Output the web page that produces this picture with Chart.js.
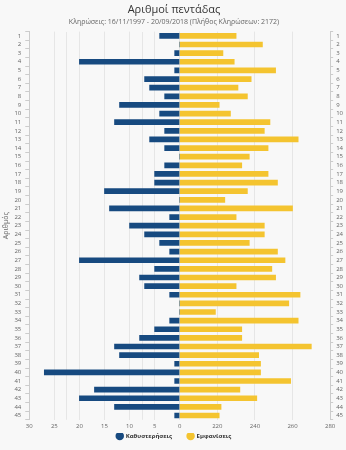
<!DOCTYPE html>
<html>
<head>
<meta charset="utf-8">
<script src="https://cdn.jsdelivr.net/npm/chart.js@4"></script>
<style>
  body { margin: 0; background: #f8f8f8; }
  #wrap { width: 346px; height: 450px; }
</style>
</head>
<body>
<div id="wrap"><canvas id="chart"></canvas></div>
<script>
// numbers 1..45
const numbers = [];
for (let i = 1; i <= 45; i++) numbers.push(String(i));

// delays (blue, left side)
const delays = [4, 0, 1, 20, 1, 7, 6, 3, 12, 4, 13, 3, 6, 3, 0, 3, 5, 5, 15, 0,
  14, 2, 10, 7, 4, 2, 20, 5, 8, 7, 2, 0, 0, 2, 5, 8, 13, 12, 1, 27,
  1, 17, 20, 13, 1];

// appearances (yellow, right side)
const appearances = [230, 244, 223, 229, 251, 238, 231, 236, 221, 227, 248, 245, 263, 247, 237, 233, 247, 252, 236, 224,
  260, 230, 245, 245, 237, 252, 256, 249, 251, 230, 264, 258, 219, 263, 233, 233, 270, 242, 243, 243,
  259, 232, 241, 222, 221];

const blue = '#174a80';
const yellow = '#f4c430';
const gridColor = '#e6e6e6';
const textColor = '#666';
const tickFont = { family: 'Open Sans', size: 6 };

new Chart(document.getElementById('chart'), {
  type: 'bar',
  data: {
    labels: numbers,
    datasets: [
      {
        label: 'Καθυστερήσεις',
        data: delays,
        xAxisID: 'xLeft',
        backgroundColor: blue,
        borderWidth: 0,
        barThickness: 5,
        grouped: false
      },
      {
        label: 'Εμφανίσεις',
        data: appearances,
        xAxisID: 'xRight',
        backgroundColor: yellow,
        borderWidth: 0,
        barThickness: 5,
        grouped: false
      }
    ]
  },
  options: {
    indexAxis: 'y',
    responsive: true,
    maintainAspectRatio: false,
    animation: false,
    layout: { padding: { left: 2, right: 0, top: 0, bottom: 1 } },
    plugins: {
      title: {
        display: true,
        text: 'Αριθμοί πεντάδας',
        color: '#333',
        font: { family: 'Open Sans', size: 11, weight: 'normal' },
        padding: { top: 3, bottom: 2 }
      },
      subtitle: {
        display: true,
        text: 'Κληρώσεις: 16/11/1997 - 20/09/2018 (Πλήθος Κληρώσεων: 2172)',
        color: textColor,
        font: { family: 'Open Sans', size: 7 },
        padding: { bottom: 5 }
      },
      legend: {
        position: 'bottom',
        labels: {
          usePointStyle: true,
          pointStyle: 'circle',
          boxWidth: 6,
          boxHeight: 6,
          color: '#333',
          font: { family: 'Open Sans', size: 6, weight: 'bold' },
          padding: 0,
          // wider gap between the two legend items
          generateLabels: chart => {
            const items = Chart.defaults.plugins.legend.labels.generateLabels(chart);
            items[0].text += '          ';
            return items;
          }
        }
      },
      tooltip: { enabled: false }
    },
    scales: {
      xLeft: {
        type: 'linear',
        position: 'bottom',
        stack: 'bottomx',
        stackWeight: 1,
        reverse: true,
        min: 0,
        max: 30,
        ticks: { stepSize: 5, color: textColor, font: tickFont, maxRotation: 0, autoSkip: false, padding: 3 },
        grid: { color: gridColor, drawTicks: false },
        border: { display: false }
      },
      xRight: {
        type: 'linear',
        position: 'bottom',
        stack: 'bottomx',
        stackWeight: 1,
        min: 200,
        max: 280,
        ticks: {
          stepSize: 20,
          color: textColor,
          font: tickFont,
          maxRotation: 0,
          autoSkip: false,
          padding: 3,
          callback: v => (v === 200 ? '' : v)
        },
        grid: { color: gridColor, drawTicks: false },
        border: { display: false }
      },
      // extra grid lines of the appearances axis that reach into the left half
      xGhost: {
        type: 'linear',
        position: 'top',
        min: 120,
        max: 280,
        ticks: { display: false, stepSize: 20 },
        grid: {
          drawTicks: false,
          color: ctx => (ctx.tick && ctx.tick.value > 120 && ctx.tick.value < 200 ? gridColor : 'rgba(0,0,0,0)')
        },
        border: { display: false }
      },
      y: {
        type: 'category',
        position: 'left',
        ticks: { color: textColor, font: tickFont, autoSkip: false, padding: 4 },
        grid: { drawOnChartArea: false, tickLength: 4, color: '#ccc' },
        border: { color: '#ccc' },
        title: {
          display: true,
          text: 'Αριθμός',
          color: textColor,
          font: { family: 'Open Sans', size: 7 },
          padding: 0
        }
      },
      y2: {
        type: 'category',
        position: 'right',
        labels: numbers,
        ticks: { color: textColor, font: tickFont, autoSkip: false, padding: 3 },
        grid: { drawOnChartArea: false, tickLength: 3, color: '#ccc' },
        border: { color: '#ccc' }
      }
    }
  }
});
</script>
</body>
</html>
